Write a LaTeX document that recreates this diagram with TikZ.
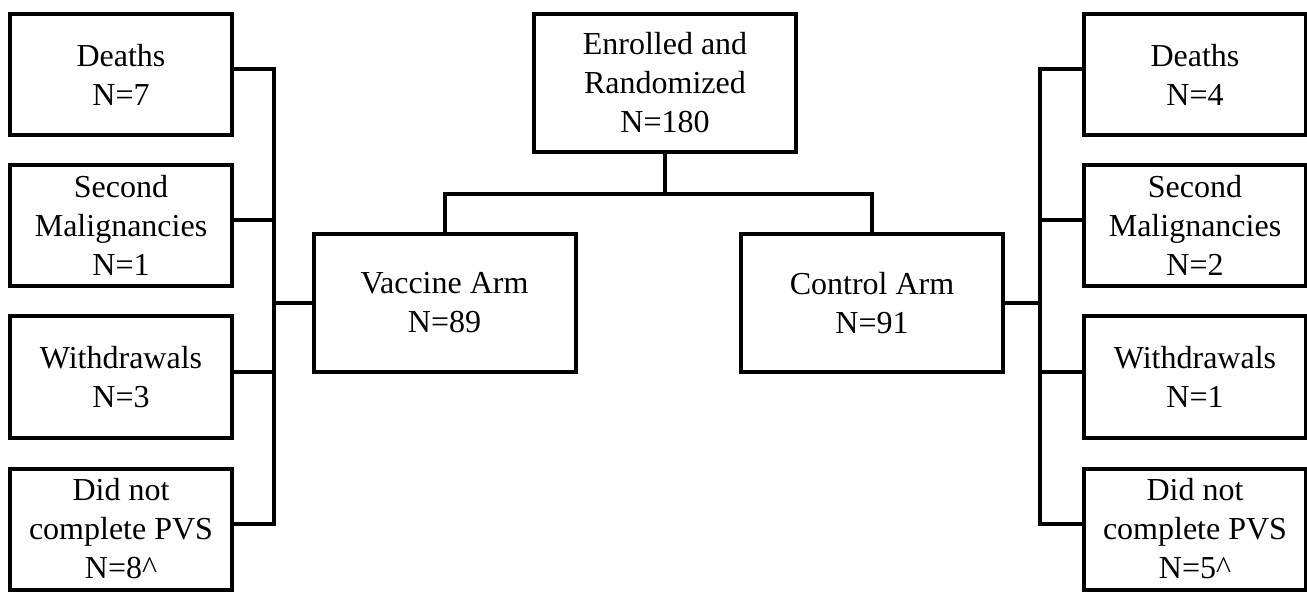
\documentclass[tikz,border=0pt]{standalone}
\usepackage{fontspec}
\setmainfont{Liberation Serif}
\usetikzlibrary{calc}

\begin{document}
\begin{tikzpicture}[x=0.5pt, y=-0.5pt,
          box/.style={rectangle, draw=black, line width=2pt, align=center,
                      inner sep=0pt, font=\fontsize{16}{19.5}\selectfont},
          side/.style={box, minimum width=111pt, minimum height=60.5pt},
          arm/.style={box, minimum width=131pt, minimum height=69pt},
          conn/.style={line width=2pt, line cap=rect}
        ]
        \useasboundingbox (0,0) rectangle (1307,593);

        % Enrollment
        \node[arm] (enr) at (665,83) {Enrolled and\\Randomized\\N=180};

        % Arms
        \node[arm] (vac) at (444.5,303) {Vaccine Arm\\N=89};
        \node[arm] (ctl) at (872,303)   {Control Arm\\N=91};

        % Off-study boxes: vaccine (left) and control (right)
        \foreach \i/\y/\ltxt/\rtxt in {
            1/74.5/{Deaths\\N=7}/{Deaths\\N=4},
            2/225.5/{Second\\Malignancies\\N=1}/{Second\\Malignancies\\N=2},
            3/377/{Withdrawals\\N=3}/{Withdrawals\\N=1},
            4/529/{Did not\\complete PVS\\N=8\textasciicircum}/{Did not\\complete PVS\\N=5\textasciicircum}} {
          \node[side] (l\i) at (121,\y)  {\ltxt};
          \node[side] (r\i) at (1195,\y) {\rtxt};
        }

        % Randomization split
        \draw[conn] (enr.south) -- ++(0,40) coordinate (split);
        \draw[conn] (split) -| (vac.north);
        \draw[conn] (split) -| (ctl.north);

        % Brackets to off-study boxes
        \foreach \i in {1,...,4} {
          \draw[conn] ($(l\i.east)+(0,-5)$) -- ++(40,0) coordinate (lj\i);
          \draw[conn] ($(r\i.west)+(0,-5)$) -- ++(-42,0) coordinate (rj\i);
        }
        \draw[conn] (lj1) -- (lj4);
        \draw[conn] (rj1) -- (rj4);
        \draw[conn] (vac.west) -- (vac.west -| lj1);
        \draw[conn] (ctl.east) -- (ctl.east -| rj1);
      \end{tikzpicture}
\end{document}
